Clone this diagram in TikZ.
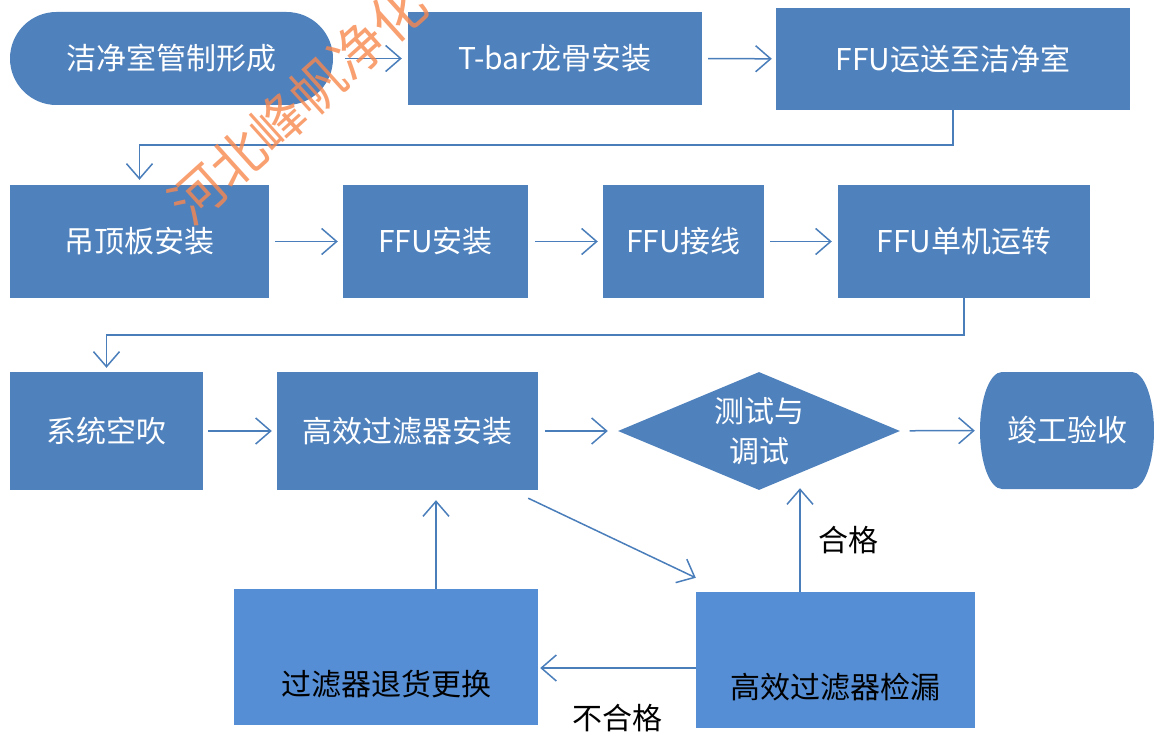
\documentclass[tikz,border=0pt]{standalone}
\usepackage{fontspec}
\setmainfont{Noto Sans CJK SC}
\usepackage{tikz}
\usetikzlibrary{arrows.meta, shapes.geometric}
\usepackage{xcolor}
\definecolor{boxblue}{HTML}{4F81BD}
\definecolor{lowblue}{HTML}{558ED5}
\definecolor{lineblue}{HTML}{4A7EBB}
\definecolor{markorange}{HTML}{F8884E}

\begin{document}
\begin{tikzpicture}[x=1pt, y=-1pt,
    box/.style={fill=boxblue, text=white, inner sep=0pt, align=center, font=\fontsize{30}{40}\selectfont},
    lowbox/.style={fill=lowblue, inner sep=0pt},
    tag/.style={text=black, font=\fontsize{30}{40}\selectfont},
    arr/.style={draw=lineblue, line width=1.5pt, -{Straight Barb[length=15pt,width=26pt]}, shorten <=6pt, shorten >=5pt}]
            \useasboundingbox (0,0) rectangle (1154,733);
            % Nodes
            \node[box, rounded corners=46.5pt, minimum width=323pt, minimum height=93pt] (start) at (171.5,58.5) {洁净室管制形成};
            \node[box, minimum width=294pt, minimum height=93pt] (tbar) at (555,58.5) {T-bar龙骨安装};
            \node[box, minimum width=354pt, minimum height=102pt] (ffuMove) at (953,59) {FFU运送至洁净室};
            \node[box, minimum width=259pt, minimum height=113pt] (ceiling) at (139.5,241.5) {吊顶板安装};
            \node[box, minimum width=185pt, minimum height=113pt] (ffuInst) at (435.5,241.5) {FFU安装};
            \node[box, minimum width=161pt, minimum height=113pt] (ffuWire) at (683.5,241.5) {FFU接线};
            \node[box, minimum width=252pt, minimum height=113pt] (ffuRun) at (964,241.5) {FFU单机运转};
            \node[box, minimum width=193pt, minimum height=118pt] (blow) at (106.5,431) {系统空吹};
            \node[box, minimum width=261pt, minimum height=118pt] (hepaInst) at (407.5,431) {高效过滤器安装};
            \node[box, diamond, aspect=2.4, minimum width=282pt, minimum height=118pt] (test) at (759,431) {测试与\\调试};
            % end box with oval sides
            \fill[boxblue] (1002,372) -- (1132,372) arc[start angle=90, end angle=-90, x radius=22pt, y radius=58.5pt]
                -- (1002,489) arc[start angle=270, end angle=90, x radius=22pt, y radius=58.5pt] -- cycle;
            \node[box, fill=none, minimum width=174pt, minimum height=117pt] (accept) at (1067,430.5) {竣工验收};
            \node[lowbox, minimum width=304pt, minimum height=136pt, label={[tag, yshift=-27pt]center:过滤器退货更换}] (replace) at (386,657) {};
            \node[lowbox, minimum width=279pt, minimum height=136pt, label={[tag, yshift=-27pt]center:高效过滤器检漏}] (leak) at (835.5,660) {};
            % Arrows
            \draw[arr, shorten <=12pt, shorten >=6pt] (start) -- (tbar);
            \draw[arr, shorten >=4pt] (tbar) -- (ffuMove);
            \draw[arr, shorten <=0pt] (ffuMove.south) -- ++(0,35) -| (ceiling.north);
            \draw[arr] (ceiling) -- (ffuInst);
            \draw[arr, shorten <=7pt] (ffuInst) -- (ffuWire);
            \draw[arr, shorten >=6pt] (ffuWire) -- (ffuRun);
            \draw[arr, shorten <=0pt, shorten >=4pt] (ffuRun.south) -- ++(0,37) -| (blow.north);
            \draw[arr, shorten <=5pt] (blow) -- (hepaInst);
            \draw[arr, shorten <=7pt, shorten >=10pt] (hepaInst) -- (test);
            \draw[arr, shorten <=10pt] (test) -- (accept);
            \draw[arr, shorten <=0pt, shorten >=0pt] ([xshift=-10pt, yshift=-8pt]hepaInst.south east) -- ([yshift=14pt]leak.north west);
            \draw[arr, shorten <=0pt, shorten >=0pt] ([xshift=-35.5pt]leak.north) -- node[tag, right=14pt] {合格} ([xshift=41pt, yshift=2pt]test.south);
            \draw[arr, shorten <=0pt, shorten >=2pt] ([yshift=-8pt]leak.west) -- node[tag, below=32pt] {不合格} ([yshift=-8pt]leak.west -| replace.east);
            \draw[arr, shorten <=0pt, shorten >=10pt] ([xshift=50pt]replace.north) -- ([xshift=28.5pt]hepaInst.south);
            % Watermark
            \node[rotate=42, text=markorange, opacity=0.8, font=\fontsize{54}{54}\selectfont] (mark) at (298,104) {河北峰帆净化};
        \end{tikzpicture}
\end{document}
